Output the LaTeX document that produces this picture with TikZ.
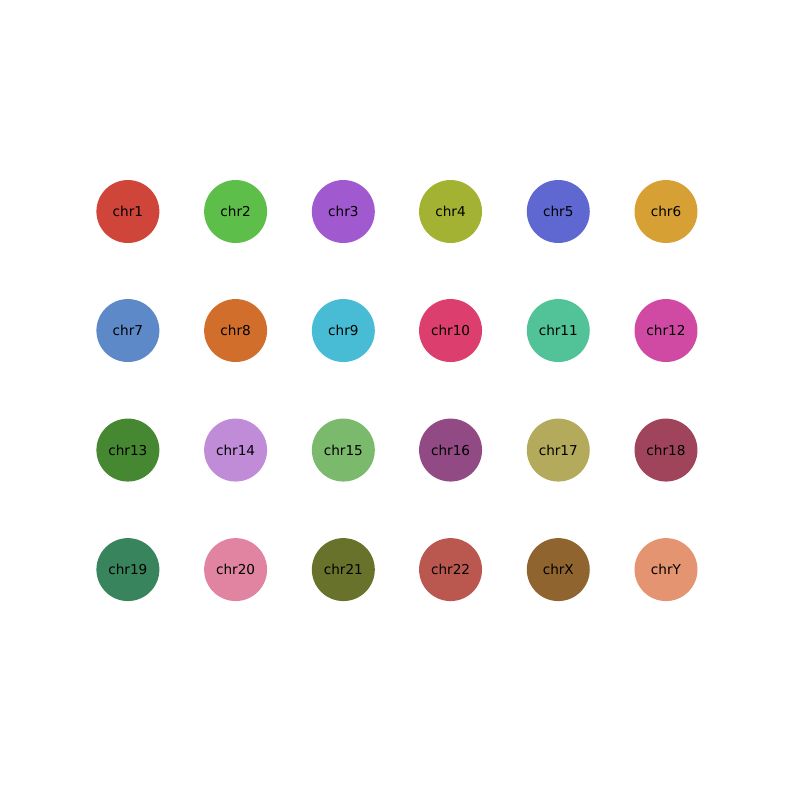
\documentclass[tikz,border=0pt]{standalone}
\usepackage{fontspec}
\setmainfont{DejaVu Sans}
\definecolor{c1}{HTML}{D0453A}
\definecolor{c2}{HTML}{5EBE4A}
\definecolor{c3}{HTML}{A159D0}
\definecolor{c4}{HTML}{A4B234}
\definecolor{c5}{HTML}{5F68D0}
\definecolor{c6}{HTML}{D6A035}
\definecolor{c7}{HTML}{5D89C8}
\definecolor{c8}{HTML}{D26E2C}
\definecolor{c9}{HTML}{48BCD4}
\definecolor{c10}{HTML}{DC3E6E}
\definecolor{c11}{HTML}{52C298}
\definecolor{c12}{HTML}{D04AA4}
\definecolor{c13}{HTML}{468732}
\definecolor{c14}{HTML}{C08CD8}
\definecolor{c15}{HTML}{7BB96C}
\definecolor{c16}{HTML}{914A84}
\definecolor{c17}{HTML}{B4AA5C}
\definecolor{c18}{HTML}{A0445C}
\definecolor{c19}{HTML}{38845C}
\definecolor{c20}{HTML}{E084A2}
\definecolor{c21}{HTML}{68722A}
\definecolor{c22}{HTML}{BA5850}
\definecolor{cX}{HTML}{90642E}
\definecolor{cY}{HTML}{E49470}
\tikzset{chrom/.style={circle,minimum size=64*0.254mm,inner sep=0pt,text=black,font=\fontsize{10pt}{12pt}\selectfont}}
\begin{document}
\begin{tikzpicture}[x=0.254mm,y=-0.254mm]
\useasboundingbox (0,0) rectangle (800,800);
\foreach \lab/\col/\cx/\cy/\nm in {
chr1/c1/130/215/n1, chr2/c2/239.5/215/n2, chr3/c3/349/215/n3, chr4/c4/458/215/n4, chr5/c5/567.5/215/n5, chr6/c6/677/215/n6,
chr7/c7/130/336/n7, chr8/c8/239.5/336/n8, chr9/c9/349/336/n9, chr10/c10/458/336/n10, chr11/c11/567.5/336/n11, chr12/c12/677/336/n12,
chr13/c13/130/457.5/n13, chr14/c14/239.5/457.5/n14, chr15/c15/349/457.5/n15, chr16/c16/458/457.5/n16, chr17/c17/567.5/457.5/n17, chr18/c18/677/457.5/n18,
chr19/c19/130/579/n19, chr20/c20/239.5/579/n20, chr21/c21/349/579/n21, chr22/c22/458/579/n22, chrX/cX/567.5/579/nX, chrY/cY/677/579/nY}
{\node[chrom,fill=\col] (\nm) at (\cx,\cy) {\lab};}
\end{tikzpicture}
\end{document}
